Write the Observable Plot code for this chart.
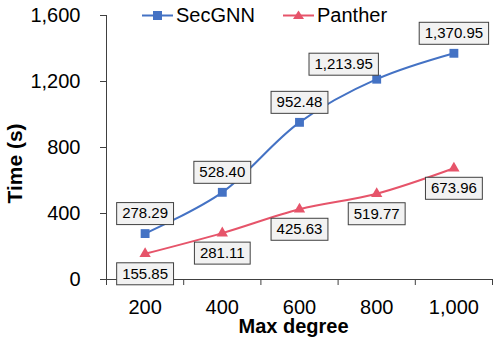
<!DOCTYPE html>
<html>
<head>
<meta charset="utf-8">
<script src="https://cdn.jsdelivr.net/npm/d3@7"></script>
<script src="https://cdn.jsdelivr.net/npm/@observablehq/plot@0.6"></script>
<style>
  body { margin: 0; background: #fff; }
  #wrap { position: relative; width: 498px; height: 345px; font-family: "Liberation Sans", Arial, sans-serif; }
  .leg { position: absolute; top: 3px; height: 24px; display: flex; align-items: center; font-size: 20px; line-height: 24px; color: #000; }
  .leg svg { margin-right: 3px; }
</style>
</head>
<body>
<div id="wrap"></div>
<script>
const degrees = [200, 400, 600, 800, 1000];
const secgnn = [278.29, 528.40, 952.48, 1213.95, 1370.95];
const panther = [155.85, 281.11, 425.63, 519.77, 673.96];
const seriesNames = ["SecGNN", "Panther"];
const seriesColors = ["#4472C4", "#E6546A"];
const yTicks = [0, 400, 800, 1200, 1600];
const xBoundaries = [100, 300, 500, 700, 900, 1100];

const rows = [
  ...degrees.map((d, i) => ({degree: d, value: secgnn[i], series: "SecGNN"})),
  ...degrees.map((d, i) => ({degree: d, value: panther[i], series: "Panther"}))
];
const fmt = d3.format(",.2f");
const intFmt = d3.format(",");
const FONT = "'Liberation Sans', Arial, sans-serif";
const axisColor = "#404040";

const ctx2d = document.createElement("canvas").getContext("2d");
ctx2d.font = "15px 'Liberation Sans'";
function boxRender(index, scales, values, dims, context, next) {
  const g = next(index, scales, values, dims, context);
  const texts = Array.from(g.querySelectorAll("text"));
  index.forEach((i, k) => {
    const t = texts[k];
    const w = ctx2d.measureText(t.textContent).width + 11;
    const h = 22;
    const r = document.createElementNS("http://www.w3.org/2000/svg", "rect");
    r.setAttribute("x", values.x[i] - w / 2);
    r.setAttribute("y", values.y[i] - h / 2);
    r.setAttribute("width", w);
    r.setAttribute("height", h);
    r.setAttribute("fill", "#f2f2f2");
    r.setAttribute("stroke", axisColor);
    r.setAttribute("stroke-width", 1);
    g.insertBefore(r, texts[0]);
  });
  return g;
}

const sec = rows.filter(d => d.series === "SecGNN");
const pan = rows.filter(d => d.series === "Panther");

const chart = Plot.plot({
  width: 498,
  height: 345,
  marginLeft: 106,
  marginRight: 6,
  marginTop: 15,
  marginBottom: 66,
  style: {fontFamily: FONT, fontSize: "20px", color: "#000", background: "#fff", overflow: "visible"},
  x: {domain: [100, 1100]},
  y: {domain: [0, 1600]},
  color: {domain: seriesNames, range: seriesColors},
  marks: [
    Plot.axisY({ticks: yTicks, tickFormat: intFmt, tickSize: 6, tickPadding: 20, fontSize: 20, label: null, stroke: axisColor, fill: "#000"}),
    Plot.axisX({ticks: degrees, tickFormat: intFmt, tickSize: 0, tickPadding: 20, fontSize: 20, label: null, fill: "#000"}),
    Plot.axisX({ticks: xBoundaries, tickFormat: () => "", tickSize: 6, label: null, stroke: axisColor}),
    Plot.ruleY([0], {stroke: axisColor, strokeWidth: 1}),
    Plot.ruleX([100], {stroke: axisColor, strokeWidth: 1}),
    Plot.line(rows, {x: "degree", y: "value", z: "series", stroke: "series", curve: "catmull-rom", strokeWidth: 2}),
    Plot.dot(sec, {x: "degree", y: "value", fill: "series", symbol: "square", r: 5}),
    Plot.dot(pan, {x: "degree", y: "value", fill: "series", symbol: "triangle", r: 4.2}),
    Plot.text(sec.filter(d => d.degree !== 800), {x: "degree", y: "value", text: d => fmt(d.value), dy: -20, fontSize: 15, fill: "#000", render: boxRender}),
    Plot.text(sec.filter(d => d.degree === 800), {x: "degree", y: "value", text: d => fmt(d.value), dx: -33, dy: -15, fontSize: 15, fill: "#000", render: boxRender}),
    Plot.text(pan, {x: "degree", y: "value", text: d => fmt(d.value), dy: 20, fontSize: 15, fill: "#000", render: boxRender}),
    Plot.text(["Time (s)"], {text: d => d, frameAnchor: "left", textAnchor: "middle", lineAnchor: "middle", rotate: -90, dx: -91, dy: 16, fontSize: 21, fontWeight: "bold", fill: "#000"}),
    Plot.text(["Max degree"], {text: d => d, frameAnchor: "bottom", textAnchor: "middle", lineAnchor: "middle", dx: -6, dy: 47, fontSize: 20, fontWeight: "bold", fill: "#000"})
  ]
});

const wrap = document.getElementById("wrap");
wrap.appendChild(chart);

function legendItem(name, color, symbol, left) {
  const div = document.createElement("div");
  div.className = "leg";
  div.style.left = left + "px";
  const marker = symbol === "square"
    ? `<rect x="11" y="3" width="9" height="9" fill="${color}"/>`
    : `<path d="M15.5,2.5 L21,11 L10,11 Z" fill="${color}"/>`;
  div.innerHTML = `<svg width="31" height="15" viewBox="0 0 31 15"><line x1="0" x2="31" y1="7.5" y2="7.5" stroke="${color}" stroke-width="2"/>${marker}</svg><span>${name}</span>`;
  wrap.appendChild(div);
}
legendItem(seriesNames[0], seriesColors[0], "square", 142);
legendItem(seriesNames[1], seriesColors[1], "triangle", 283);
</script>
</body>
</html>
